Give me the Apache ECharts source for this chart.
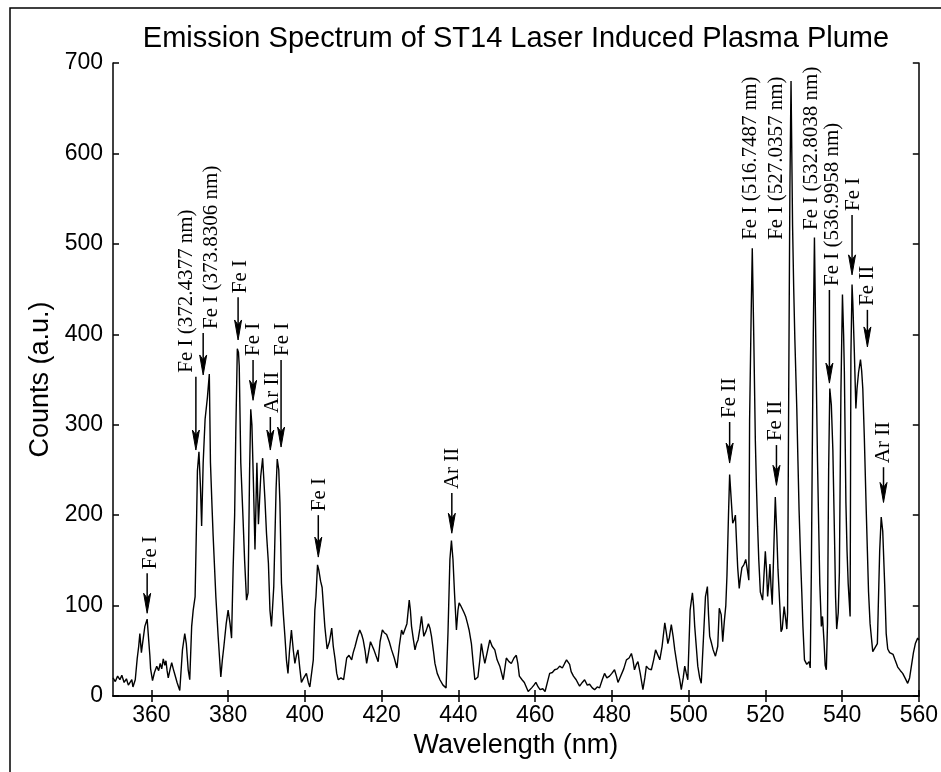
<!DOCTYPE html>
<html>
<head>
<meta charset="utf-8">
<title>Emission Spectrum of ST14 Laser Induced Plasma Plume</title>
<script src="https://cdn.jsdelivr.net/npm/echarts@6.0.0/dist/echarts.min.js"></script>
<style>
  html, body { margin: 0; padding: 0; background: #fff; }
  #main { width: 941px; height: 772px; }
</style>
</head>
<body>
<div id="main"></div>
<script>
// spectrum (nm / counts)
var wavelength = [
  350.0,350.6,351.2,351.8,352.3,352.9,353.5,354.0,354.4,354.9,355.2,355.8,356.3,356.7,357.0,357.4,357.7,358.3,358.9,359.3,
  359.6,359.8,360.3,360.8,361.4,361.9,362.3,362.7,363.1,363.5,363.8,364.1,364.4,364.9,365.3,365.7,366.1,366.7,367.4,368.1,
  368.7,369.1,369.6,370.0,370.5,370.9,371.4,371.8,372.0,372.4,372.8,373.1,373.5,374.0,374.6,375.1,375.4,375.8,376.1,376.8,
  377.4,377.8,378.1,378.5,378.9,379.5,380.0,380.5,380.9,381.3,381.7,382.0,382.4,382.7,382.9,383.3,383.9,384.3,384.8,385.2,
  385.6,385.9,386.2,386.6,387.0,387.5,387.9,388.5,389.0,389.6,390.0,390.5,390.9,391.3,391.9,392.5,392.8,393.2,393.5,393.9,
  394.4,394.8,395.2,395.6,396.0,396.5,397.0,397.4,397.8,398.2,398.7,399.1,399.7,400.4,400.9,401.3,401.7,402.2,402.6,402.9,
  403.3,403.6,404.1,404.5,404.8,405.2,405.8,406.4,407.0,407.4,407.9,408.3,408.7,409.4,410.1,410.5,410.9,411.5,412.2,412.6,
  413.1,413.7,414.3,414.8,415.2,415.7,416.1,416.6,417.1,417.6,418.0,418.5,419.1,419.6,420.2,420.7,421.3,422.0,422.6,423.3,
  424.0,424.6,425.2,425.6,426.0,426.6,427.2,427.5,427.8,428.3,428.7,429.1,429.5,430.0,430.4,431.0,431.6,432.2,432.6,433.0,
  433.5,433.9,434.5,435.2,436.0,436.8,437.3,437.8,438.2,438.6,439.0,439.5,439.9,440.2,440.6,441.0,441.5,441.9,442.4,442.8,
  443.4,443.9,444.3,445.1,445.6,446.0,446.5,446.9,447.6,448.2,448.8,449.5,450.1,450.8,451.7,452.5,453.2,453.8,454.5,455.1,
  455.5,455.9,456.6,457.2,457.7,458.2,459.1,459.7,460.2,460.8,461.3,462.0,462.6,463.2,463.8,464.5,465.1,465.8,466.4,467.1,
  467.7,468.2,468.6,469.0,469.4,470.0,470.7,471.2,471.6,472.3,472.9,473.6,474.2,474.9,475.5,476.2,476.8,477.5,478.1,478.7,
  479.4,480.0,480.7,481.2,481.6,482.1,482.5,483.1,483.8,484.5,485.1,485.5,485.9,486.4,486.8,487.4,488.1,488.6,489.0,489.6,
  490.3,490.9,491.4,492.0,492.5,493.1,493.8,494.2,494.6,495.0,495.5,496.0,496.4,496.8,497.2,497.7,498.1,498.6,499.0,499.4,
  499.8,500.4,501.0,501.3,501.6,502.0,502.4,502.9,503.3,503.6,503.9,504.4,504.9,505.2,505.5,506.0,506.4,507.0,507.6,508.0,
  508.5,508.9,509.3,509.7,510.0,510.4,510.7,511.1,511.5,511.9,512.2,512.5,512.8,513.2,513.5,513.9,514.4,514.9,515.3,515.7,
  515.9,516.3,516.6,517.0,517.4,517.7,518.0,518.3,518.7,519.3,519.6,520.0,520.3,520.6,520.9,521.2,521.5,521.8,522.0,522.4,
  522.6,523.0,523.3,523.6,524.1,524.4,524.9,525.3,525.6,525.8,526.1,526.4,526.7,527.1,527.4,527.7,528.2,528.5,528.8,529.2,
  529.5,529.8,530.2,530.8,531.4,531.7,532.0,532.2,532.5,532.8,533.2,533.6,533.9,534.2,534.6,534.9,535.3,535.6,535.9,536.2,
  536.5,536.8,537.2,537.6,538.1,538.3,538.6,539.0,539.3,539.7,540.1,540.4,540.6,541.0,541.3,541.6,542.1,542.3,542.6,542.8,
  543.2,543.6,543.9,544.3,544.8,545.1,545.4,545.8,546.3,546.6,546.9,547.3,547.7,548.0,548.5,549.2,549.4,549.8,550.2,550.6,
  551.1,551.5,551.9,552.4,553.3,553.8,554.5,555.2,555.8,556.4,557.1,557.6,558.0,558.6,559.1,559.7,560.0
];
var counts = [
  20,16,22,18,23,15,19,12,14,18,10,18,41,55,69,48,58,77,85,62,
  45,30,17,26,33,28,36,30,41,34,39,28,20,30,37,30,24,15,6,51,
  69,58,29,18,77,95,110,200,249,270,230,188,258,306,330,356,258,210,177,110,
  66,40,21,40,55,80,95,80,64,140,200,291,384,380,365,258,195,150,106,114,
  250,317,300,235,162,258,190,243,263,217,180,147,95,77,121,229,262,250,214,125,
  90,66,40,25,50,73,50,36,45,51,30,15,20,25,15,10,9,40,95,110,
  145,140,127,120,118,77,52,60,75,55,40,25,18,20,18,30,42,45,40,48,
  55,65,73,68,62,50,36,48,60,55,51,45,38,60,73,70,68,60,51,42,
  31,55,73,68,66,80,106,95,77,62,51,58,62,75,88,66,72,80,75,66,
  50,36,25,18,12,9,70,151,172,151,114,73,95,103,100,99,92,88,80,73,
  58,35,18,21,40,58,45,36,50,62,55,51,40,33,18,42,38,36,42,45,
  36,22,18,15,10,5,9,12,15,10,7,8,5,15,25,26,29,30,33,31,
  36,40,42,35,27,22,18,14,11,15,18,12,13,9,7,10,9,18,25,20,
  22,25,29,22,15,20,18,30,40,42,47,40,29,35,38,25,7,20,33,30,
  29,40,51,45,40,55,81,70,58,65,79,65,51,40,29,18,7,20,33,25,
  18,95,114,100,77,55,33,20,14,40,66,110,121,90,66,58,51,44,55,97,
  90,60,82,100,133,200,245,218,191,195,200,170,142,119,130,142,145,151,140,128,
  304,420,495,394,282,230,187,150,115,106,130,160,140,110,125,146,120,101,99,191,
  220,178,140,115,71,74,99,85,74,92,340,560,680,520,450,394,318,260,205,150,
  115,77,40,35,38,31,140,250,400,507,376,259,190,124,77,88,60,34,29,79,
  250,340,322,272,160,110,74,92,137,336,444,400,358,214,160,124,88,376,455,435,
  380,318,340,358,372,360,340,286,205,160,115,80,62,49,50,58,92,160,198,182,
  124,69,52,48,46,40,32,28,25,20,14,20,21,48,58,64,62
];

var xTicks = [360, 380, 400, 420, 440, 460, 480, 500, 520, 540, 560];

// line labels: where the arrow points (nm), arrow tip and tail (counts), text centre (nm)
var annLabel = ['Fe I', 'Fe I (372.4377 nm)', 'Fe I (373.8306 nm)', 'Fe I', 'Fe I', 'Ar II', 'Fe I', 'Fe I', 'Ar II',
  'Fe II', 'Fe I (516.7487 nm)', 'Fe II', 'Fe I (527.0357 nm)', 'Fe I (532.8038 nm)', 'Fe I (536.9958 nm)', 'Fe I', 'Fe II', 'Ar II'];
var annX = [358.9, 371.6, 373.5, 382.6, 386.5, 391.0, 393.8, 403.5, 438.3,
  510.7, 516.6, 522.9, 527.0, 532.8, 536.7, 542.6, 546.6, 550.8];
var annTip = [91.5, 272, 355, 393.7, 327, 272, 275.3, 153.6, 180,
  257.6, 500, 233, 500, 511, 346, 465.7, 386, 214];
var annTail = [135.8, 353, 401.5, 441, 371.6, 308.5, 371.6, 200, 224.4,
  303, 500, 277.5, 500, 511, 449, 532, 427, 253];
var annTextX = [359.7, 369.1, 375.6, 383.2, 386.7, 391.5, 394.2, 403.9, 438.6,
  510.6, 516.2, 522.7, 523.0, 532.1, 537.6, 543.1, 546.6, 550.9];

var chart = echarts.init(document.getElementById('main'), null, { renderer: 'canvas' });

var spectrum = wavelength.map(function (w, i) { return [w, counts[i]]; });
var annData = annX.map(function (x, i) { return [x, annTip[i], annTail[i], annTextX[i]]; });

function renderAnn(params, api) {
  var i = params.dataIndex;
  var tip = api.coord([api.value(0), api.value(1)]);
  var tail = api.coord([api.value(0), api.value(2)]);
  var tx = api.coord([api.value(3), api.value(2)]);
  var children = [];
  if (tail[1] < tip[1] - 1) {
    children.push({
      type: 'line',
      shape: { x1: tail[0], y1: tail[1], x2: tip[0], y2: tip[1] - 12 },
      style: { stroke: '#000', lineWidth: 1.5 }
    });
    children.push({
      type: 'polygon',
      shape: { points: [[tip[0], tip[1]], [tip[0] - 3.5, tip[1] - 20], [tip[0], tip[1] - 15], [tip[0] + 3.5, tip[1] - 20]] },
      style: { fill: '#000', stroke: '#000', lineWidth: 1 }
    });
  }
  children.push({
    type: 'text',
    x: tx[0],
    y: tail[1] - 4,
    rotation: Math.PI / 2,
    style: {
      text: annLabel[i],
      align: 'left',
      verticalAlign: 'middle',
      font: '21px "Liberation Serif", "DejaVu Serif", serif',
      fill: '#000'
    }
  });
  return { type: 'group', children: children };
}

var axisFont = '"Liberation Sans", Arial, sans-serif';

var option = {
  backgroundColor: '#ffffff',
  animation: false,
  graphic: [
    {
      type: 'rect',
      shape: { x: 10, y: 8, width: 960, height: 800 },
      style: { fill: 'none', stroke: '#000', lineWidth: 1.5 },
      silent: true
    },
    {
      type: 'text',
      x: 516,
      y: 39,
      style: {
        text: 'Emission Spectrum of ST14 Laser Induced Plasma Plume',
        align: 'center',
        verticalAlign: 'middle',
        font: '29px ' + axisFont,
        fill: '#000'
      },
      silent: true
    }
  ],
  grid: { left: 113, right: 22, top: 63, bottom: 76 },
  xAxis: [{
    type: 'value',
    min: 350,
    max: 560,
    name: 'Wavelength (nm)',
    nameLocation: 'middle',
    nameGap: 36,
    nameTextStyle: { fontFamily: axisFont, fontSize: 27, color: '#000' },
    axisLine: { lineStyle: { color: '#000', width: 1.5 } },
    axisTick: { inside: true, length: 6, customValues: xTicks, lineStyle: { color: '#000', width: 1.5 } },
    axisLabel: { customValues: xTicks, margin: 8, fontFamily: axisFont, fontSize: 23, color: '#000' },
    splitLine: { show: false }
  }, {
    type: 'value',
    position: 'top',
    min: 350,
    max: 560,
    axisLine: { lineStyle: { color: '#000', width: 1.5 } },
    axisTick: { inside: true, length: 6, customValues: xTicks, lineStyle: { color: '#000', width: 1.5 } },
    axisLabel: { show: false },
    splitLine: { show: false }
  }],
  yAxis: [{
    type: 'value',
    min: 0,
    max: 700,
    interval: 100,
    name: 'Counts (a.u.)',
    nameLocation: 'middle',
    nameGap: 58,
    nameTextStyle: { fontFamily: axisFont, fontSize: 27, color: '#000' },
    axisLine: { show: true, lineStyle: { color: '#000', width: 1.5 } },
    axisTick: { show: true, inside: true, length: 6, lineStyle: { color: '#000', width: 1.5 } },
    axisLabel: { margin: 10, fontFamily: axisFont, fontSize: 23, color: '#000' },
    splitLine: { show: false }
  }, {
    type: 'value',
    position: 'right',
    min: 0,
    max: 700,
    interval: 100,
    axisLine: { show: true, lineStyle: { color: '#000', width: 1.5 } },
    axisTick: { show: true, inside: true, length: 6, lineStyle: { color: '#000', width: 1.5 } },
    axisLabel: { show: false },
    splitLine: { show: false }
  }],
  series: [{
    name: 'ST14',
    type: 'line',
    data: spectrum,
    showSymbol: false,
    lineStyle: { color: '#000', width: 1.4 },
    silent: true
  }, {
    name: 'lines',
    type: 'custom',
    data: annData,
    renderItem: renderAnn,
    clip: false,
    silent: true,
    z: 5
  }]
};

chart.setOption(option);
</script>
</body>
</html>
